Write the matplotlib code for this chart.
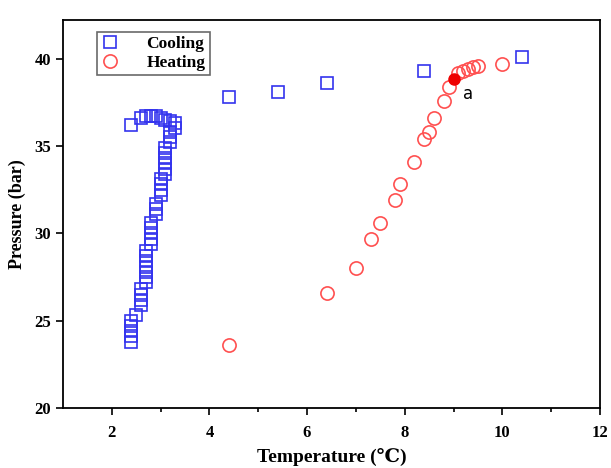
import matplotlib
matplotlib.use("Agg")
import matplotlib.pyplot as plt

plt.rcParams["font.family"] = ["Liberation Serif", "DejaVu Serif"]
plt.rcParams["font.weight"] = "bold"

# cooling run (squares)
cool_t = [2.4, 2.4, 2.4, 2.4, 2.4, 2.5,
          2.6, 2.6, 2.6, 2.6,
          2.7, 2.7, 2.7, 2.7, 2.7, 2.7, 2.7,
          2.8, 2.8, 2.8, 2.8, 2.8,
          2.9, 2.9, 2.9,
          3.0, 3.0, 3.0, 3.0,
          3.1, 3.1, 3.1, 3.1, 3.1, 3.1,
          3.2, 3.2, 3.2, 3.3, 3.3,
          2.4, 2.6, 2.7, 2.8, 2.9, 3.0, 3.1, 3.2,
          4.4, 5.4, 6.4, 8.4, 10.4]
cool_p = [23.8, 24.1, 24.4, 24.7, 25.0, 25.3,
          25.9, 26.2, 26.5, 26.8,
          27.2, 27.5, 27.8, 28.1, 28.4, 28.7, 29.0,
          29.4, 29.7, 30.0, 30.3, 30.6,
          31.1, 31.4, 31.7,
          32.2, 32.5, 32.8, 33.1,
          33.4, 33.7, 34.0, 34.3, 34.6, 34.9,
          35.2, 35.5, 35.8, 36.0, 36.3,
          36.2, 36.6, 36.7, 36.7, 36.7, 36.6, 36.5, 36.4,
          37.8, 38.1, 38.6, 39.3, 40.1]

# heating run (circles)
heat_t = [4.4, 6.4, 7.0, 7.3, 7.5, 7.8, 7.9, 8.2, 8.4, 8.5, 8.6, 8.8,
          8.9, 9.1, 9.2, 9.3, 9.4, 9.5, 10.0]
heat_p = [23.6, 26.6, 28.0, 29.7, 30.6, 31.9, 32.8, 34.1, 35.4, 35.8, 36.6, 37.6,
          38.4, 39.2, 39.3, 39.4, 39.5, 39.6, 39.7]

point_a = (9.0, 38.85)

fig, ax = plt.subplots(figsize=(6.11, 4.68), dpi=100)
fig.subplots_adjust(left=0.103, right=0.982, bottom=0.128, top=0.957)

ax.plot(cool_t, cool_p, "s", ls="none", ms=8.5, mfc="none", mec="#3333ee",
        mew=1.2, label="Cooling")
ax.plot(heat_t, heat_p, "o", ls="none", ms=9.5, mfc="none", mec="#ff5050",
        mew=1.2, label="Heating")
ax.plot([point_a[0]], [point_a[1]], "o", ms=8, color="#ee0000")
ax.text(9.3, 38.0, "a", fontsize=12, family="DejaVu Sans", weight="normal",
        ha="center", va="center")

ax.set_xlim(1, 12)
ax.set_ylim(20, 42.2)
ax.set_xticks([2, 4, 6, 8, 10, 12])
ax.set_xticks([3, 5, 7, 9, 11], minor=True)
ax.set_yticks([20, 25, 30, 35, 40])
ax.tick_params(axis="both", which="major", direction="out", length=5, width=1.2,
               labelsize=12)
ax.tick_params(axis="x", which="minor", direction="out", length=3, width=1.2)
ax.tick_params(axis="x", pad=7)
for s in ax.spines.values():
    s.set_linewidth(1.3)

ax.set_xlabel("Temperature (℃)", fontsize=14, fontweight="bold", labelpad=5)
ax.set_ylabel("Pressure (bar)", fontsize=13, fontweight="bold", labelpad=6)

leg = ax.legend(loc="upper left", bbox_to_anchor=(0.063, 0.97), borderaxespad=0,
                fontsize=12.5, frameon=True, fancybox=False, edgecolor="#444444",
                handlelength=1.0, handletextpad=1.6, borderpad=0.25,
                labelspacing=0.15)
leg.get_frame().set_linewidth(1.2)

fig.savefig("out.png", dpi=100)
